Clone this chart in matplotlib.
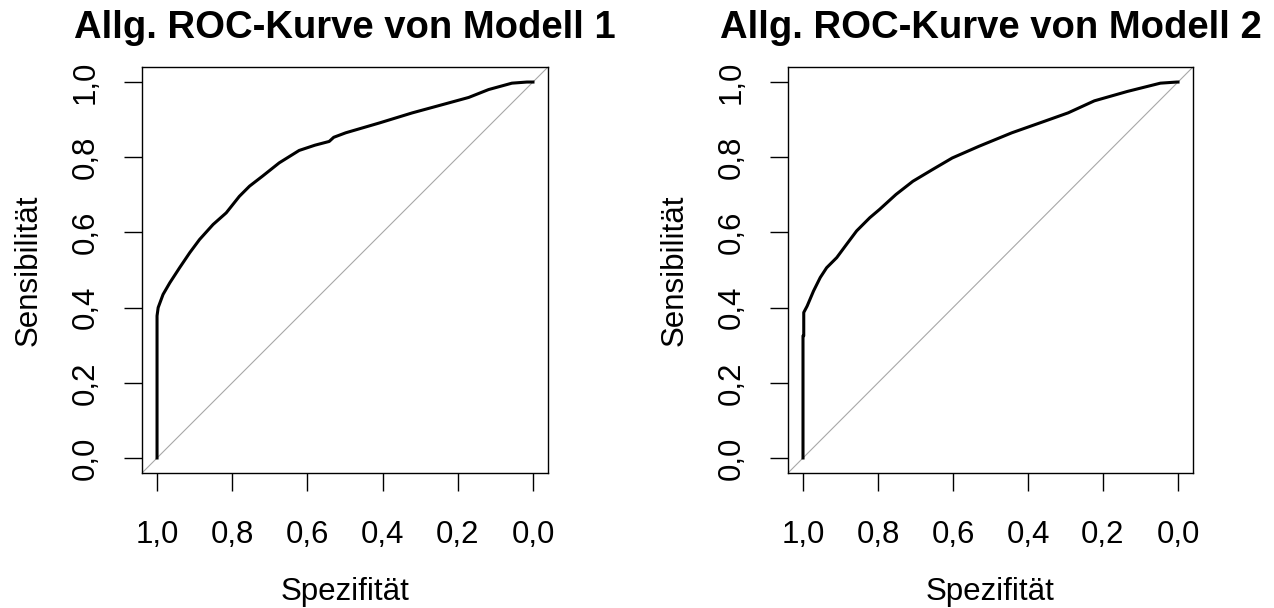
"""Two ROC curves side by side, R/pROC look."""

import matplotlib
matplotlib.use("Agg")
import matplotlib.pyplot as plt
from matplotlib.ticker import FixedLocator, FixedFormatter

# (specificity, sensitivity)
spec_m1 = [1.0, 1.0, 0.997, 0.984, 0.966, 0.94, 0.913, 0.887, 0.851, 0.816,
           0.781, 0.754, 0.719, 0.675, 0.622, 0.58, 0.542, 0.53, 0.498, 0.409,
           0.321, 0.233, 0.171, 0.118, 0.056, 0.016, 0.0]
sens_m1 = [0.0, 0.378, 0.40, 0.435, 0.466, 0.506, 0.546, 0.581, 0.621, 0.652,
           0.696, 0.723, 0.75, 0.785, 0.818, 0.832, 0.842, 0.853, 0.865, 0.891,
           0.918, 0.942, 0.959, 0.98, 0.997, 1.0, 1.0]

spec_m2 = [1.0, 1.0, 0.998, 0.998, 0.989, 0.972, 0.954, 0.937, 0.91, 0.884,
           0.857, 0.822, 0.796, 0.752, 0.707, 0.655, 0.602, 0.531, 0.443,
           0.355, 0.293, 0.223, 0.135, 0.047, 0.003, 0.0]
sens_m2 = [0.0, 0.325, 0.325, 0.387, 0.404, 0.444, 0.48, 0.506, 0.533, 0.568,
           0.604, 0.639, 0.661, 0.701, 0.736, 0.767, 0.798, 0.829, 0.865,
           0.896, 0.918, 0.95, 0.975, 0.997, 1.0, 1.0]

titles = ["Allg. ROC-Kurve von Modell 1", "Allg. ROC-Kurve von Modell 2"]
tick_vals = [1.0, 0.8, 0.6, 0.4, 0.2, 0.0]
tick_labels = ["1,0", "0,8", "0,6", "0,4", "0,2", "0,0"]

FONT = "Liberation Sans"
FONT_SIZE = 22.5

plt.rcParams["font.family"] = [FONT, "DejaVu Sans"]

fig = plt.figure(figsize=(12.74, 6.08), dpi=100)
ax1 = fig.add_axes([142 / 1274, 1 - 473 / 608, 406 / 1274, 406 / 608])
ax2 = fig.add_axes([788 / 1274, 1 - 473 / 608, 405 / 1274, 406 / 608])

for ax, spec, sens, title in [(ax1, spec_m1, sens_m1, titles[0]),
                              (ax2, spec_m2, sens_m2, titles[1])]:
    ax.axline((1, 0), (0, 1), color="#a8a8a8", lw=0.8, zorder=1)
    ax.plot(spec, sens, color="black", lw=2.2, zorder=2)

    ax.set_xlim(1.04, -0.04)
    ax.set_ylim(-0.04, 1.04)

    ax.xaxis.set_major_locator(FixedLocator(tick_vals))
    ax.xaxis.set_major_formatter(FixedFormatter(tick_labels))
    ax.yaxis.set_major_locator(FixedLocator(tick_vals))
    ax.yaxis.set_major_formatter(FixedFormatter(tick_labels))

    ax.tick_params(axis="both", length=13, width=1, labelsize=FONT_SIZE,
                   colors="black")
    ax.tick_params(axis="x", pad=21)
    ax.tick_params(axis="y", pad=17)
    for lab in ax.get_yticklabels():
        lab.set_rotation(90)
        lab.set_va("center")

    for sp in ax.spines.values():
        sp.set_linewidth(1)

    ax.set_xlabel("Spezifität", fontsize=FONT_SIZE, labelpad=19.5)
    ax.set_ylabel("Sensibilität", fontsize=FONT_SIZE, labelpad=19)
    ax.set_title(title, fontsize=27.5, fontweight="bold", pad=21)

fig.savefig("out.png", dpi=100)
